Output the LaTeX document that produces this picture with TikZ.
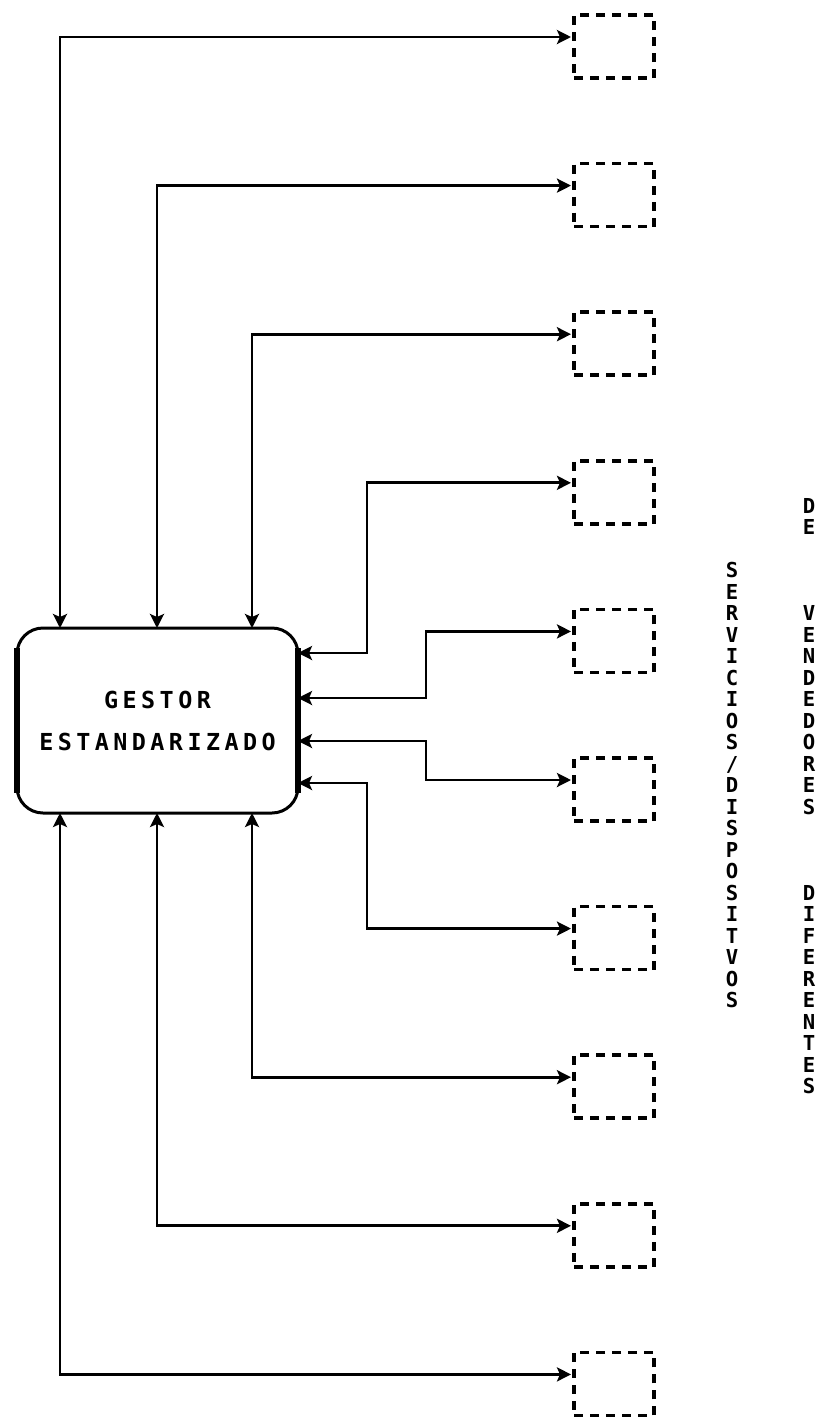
\documentclass[tikz,border=0pt]{standalone}
\usepackage{fontspec}
\usetikzlibrary{arrows.meta}
\newfontfamily\plotfont[LetterSpace=19]{DejaVu Sans Mono}
\newfontfamily\stackfont{DejaVu Sans Mono}

\begin{document}
\begin{tikzpicture}[
    x=0.5pt, y=-0.5pt,
    gestor/.style={draw, line width=1.5pt, rounded corners=13pt,
                   minimum width=140.5pt, minimum height=92.5pt,
                   inner sep=0pt, outer sep=0pt, align=center,
                   font=\plotfont\bfseries\fontsize{11.7}{21}\selectfont},
    slot/.style={draw, line width=1.8pt, dash pattern=on 4.5pt off 3.5pt,
                 minimum width=40pt, minimum height=31.5pt,
                 inner sep=0pt, outer sep=0pt},
    link/.style={draw, line width=1.4pt,
                 {Stealth[length=7pt,width=7pt,inset=1.5pt]}-{Stealth[length=7pt,width=7pt,inset=1.5pt]}},
    side/.style={line width=2.8pt},
    column/.style={anchor=north, inner sep=0pt, align=center,
                   font=\stackfont\bfseries\fontsize{10.3}{10.75}\selectfont},
  ]
  \useasboundingbox (0,0) rectangle (827,1426);

  % gestor central
  \node[gestor] (gestor) at (157.5,720.5) {GESTOR\\ESTANDARIZADO};
  \draw[side] ([yshift=-10pt]gestor.north west) -- ([yshift=10pt]gestor.south west);
  \draw[side] ([yshift=-10pt]gestor.north east) -- ([yshift=10pt]gestor.south east);

  % puntos de enlace en el gestor
  \coordinate (t1) at ([xshift=21.5pt]gestor.north west);
  \coordinate (t2) at ([xshift=70pt]gestor.north west);
  \coordinate (t3) at ([xshift=117.5pt]gestor.north west);
  \coordinate (b1) at ([xshift=21.5pt]gestor.south west);
  \coordinate (b2) at ([xshift=70pt]gestor.south west);
  \coordinate (b3) at ([xshift=117.5pt]gestor.south west);
  \coordinate (r1) at ([yshift=-12.5pt]gestor.north east);
  \coordinate (r2) at ([yshift=-35pt]gestor.north east);
  \coordinate (r3) at ([yshift=-56.5pt]gestor.north east);
  \coordinate (r4) at ([yshift=-77.5pt]gestor.north east);

  % servicios
  \foreach \i in {1,...,10} {
    \node[slot] (d\i) at (614,{46.5+148.6*(\i-1)}) {};
    \coordinate (e\i) at ([yshift=4.75pt,xshift=-1.5pt]d\i.west);
  }

  \draw[link] (t1) |- (e1);
  \draw[link] (t2) |- (e2);
  \draw[link] (t3) |- (e3);
  \draw[link] (r1) -- ++(69,0) |- (e4);
  \draw[link] (r2) -- ++(128,0) |- (e5);
  \draw[link] (r3) -- ++(128,0) |- (e6);
  \draw[link] (r4) -- ++(69,0) |- (e7);
  \draw[link] (b3) |- (e8);
  \draw[link] (b2) |- (e9);
  \draw[link] (b1) |- (e10);

  % rotulos
  \node[column] (servicios) at (732,562)
    {S\\E\\R\\V\\I\\C\\I\\O\\S\\/\\D\\I\\S\\P\\O\\S\\I\\T\\V\\O\\S};
  \node[column] (vendedores) at (809,498)
    {D\\E\\[32.25pt]V\\E\\N\\D\\E\\D\\O\\R\\E\\S\\[32.25pt]D\\I\\F\\E\\R\\E\\N\\T\\E\\S};
\end{tikzpicture}
\end{document}
